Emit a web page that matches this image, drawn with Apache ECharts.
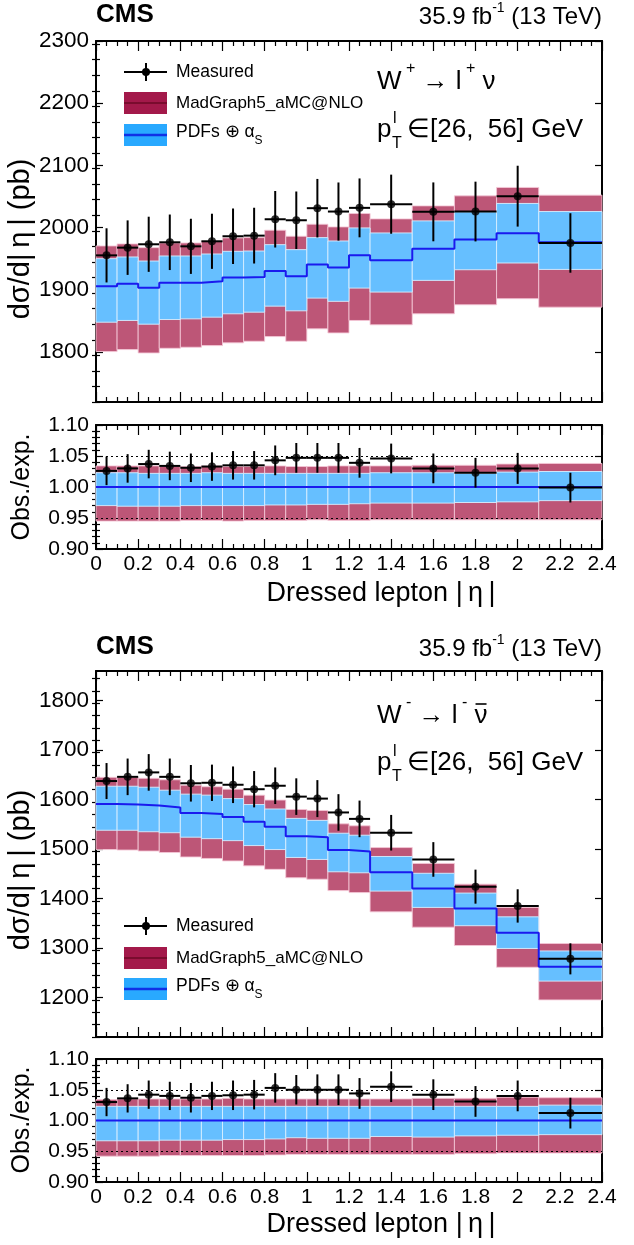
<!DOCTYPE html>
<html><head><meta charset="utf-8">
<script src="https://cdn.jsdelivr.net/npm/echarts@6/dist/echarts.min.js"></script>
<style>html,body{margin:0;padding:0;background:#fff}#c{width:634px;height:1245px}</style>
</head><body><div id="c"></div>
<script>
// ---------- DATA ----------
const edges = [0,0.1,0.2,0.3,0.4,0.5,0.6,0.7,0.8,0.9,1.0,1.1,1.2,1.3,1.5,1.7,1.9,2.1,2.4];
const xTickLabels = [0,0.2,0.4,0.6,0.8,1,1.2,1.4,1.6,1.8,2,2.2,2.4];

// W+ panel
const wpData   = [1955.6,1968,1973.4,1976.6,1970.1,1978.2,1986.3,1987.3,2013.6,2012,2031.4,2026,2031.9,2037.8,2025.5,2026,2050.7,1975.5];
const wpErr    = [43.5,43.8,44.3,44.6,44.3,44.3,44.6,44.8,45.4,46.2,47,46.7,47.3,47.5,47.3,48,48.9,47.8];
const wpPred   = [1906,1910,1903.5,1911.6,1911.6,1914,1920,1921,1930.4,1922,1941,1936,1955.6,1947.6,1966.4,1981,1991,1976.6];
const wpPdfUp  = [1950.3,1953,1946.5,1954.6,1954.6,1957.8,1962.1,1962.6,1972.8,1964.8,1984.1,1978.7,1999.7,1991.6,2011,2025.5,2039,2026];
const wpPdfDn  = [1848.2,1851,1845,1852.5,1853.6,1856.3,1861.7,1864.3,1874,1866.5,1886.9,1881.7,1903,1896.6,1915.4,1932.5,1943.3,1933];
const wpTotUp  = [1970.7,1974,1968,1975.5,1975.5,1978.2,1983.6,1984.1,1996,1986.3,2005.6,2001.3,2022.8,2014.2,2035.1,2051.2,2064.7,2052.3];
const wpTotDn  = [1801,1804.2,1798.8,1806.3,1808,1810.6,1815,1817.6,1825.1,1817.6,1837.5,1831,1851,1844,1861.7,1876.2,1886,1872.4];
const wpRatio    = [1.026,1.030,1.037,1.034,1.031,1.033,1.035,1.035,1.043,1.047,1.047,1.047,1.039,1.046,1.030,1.023,1.030,0.999];
const wpRatioErr = [0.023,0.023,0.023,0.023,0.023,0.023,0.023,0.023,0.024,0.024,0.024,0.024,0.024,0.024,0.024,0.024,0.025,0.024];
const wpRTotUp = [1.034,1.034,1.034,1.033,1.033,1.034,1.033,1.033,1.034,1.033,1.033,1.034,1.034,1.034,1.035,1.035,1.037,1.038];
const wpRPdfUp = [1.023,1.023,1.022,1.022,1.022,1.023,1.022,1.022,1.022,1.022,1.022,1.022,1.022,1.023,1.023,1.022,1.024,1.025];
const wpRPdfDn = [0.970,0.969,0.969,0.969,0.970,0.970,0.970,0.970,0.971,0.971,0.972,0.972,0.973,0.974,0.974,0.975,0.976,0.978];
const wpRTotDn = [0.945,0.945,0.945,0.945,0.946,0.946,0.945,0.946,0.946,0.946,0.947,0.946,0.946,0.947,0.947,0.947,0.947,0.947];
const wpYTicks = [1800,1900,2000,2100,2200,2300];

// W- panel
const wmData   = [1637.5,1646,1655,1646,1633,1634,1630,1621,1628,1606,1602,1574,1561,1533,1479,1424,1385,1278];
const wmErr    = [36.4,37,37,37,37,36.7,37,36.7,37,37,37.4,37,37,36,35,34.4,33.7,31.4];
const wmPred   = [1591,1590,1588,1584,1573,1571,1565,1555,1545,1526,1524,1498,1495,1453,1420,1380,1331,1262];
const wmPdfUp  = [1627,1627,1625,1619,1611,1609,1602,1590,1581,1562,1558,1532,1528,1485,1451,1411,1363,1294];
const wmPdfDn  = [1538,1538,1535,1533,1524,1521,1517,1507,1499,1483,1479,1454,1452,1415,1382,1345,1299,1233];
const wmTotUp  = [1645,1645,1643,1640,1629,1626,1621,1609,1599,1580,1578,1551,1547,1503,1471,1429,1382,1309];
const wmTotDn  = [1499,1498,1496,1493,1484,1481,1476,1466,1459,1442,1439,1416,1412,1373,1342,1305,1261,1195];
const wmRatio    = [1.030,1.036,1.042,1.040,1.037,1.040,1.041,1.042,1.053,1.050,1.050,1.050,1.044,1.055,1.042,1.031,1.040,1.012];
const wmRatioErr = [0.023,0.023,0.023,0.023,0.024,0.023,0.024,0.024,0.024,0.024,0.025,0.025,0.025,0.025,0.025,0.025,0.025,0.025];
const wmRTotUp = [1.034,1.035,1.035,1.035,1.035,1.035,1.036,1.035,1.035,1.035,1.035,1.035,1.035,1.035,1.036,1.036,1.038,1.037];
const wmRPdfUp = [1.023,1.023,1.023,1.023,1.023,1.023,1.023,1.023,1.023,1.023,1.023,1.023,1.023,1.023,1.023,1.023,1.023,1.025];
const wmRPdfDn = [0.967,0.967,0.967,0.968,0.968,0.968,0.969,0.969,0.970,0.972,0.971,0.971,0.971,0.974,0.973,0.975,0.976,0.977];
const wmRTotDn = [0.942,0.942,0.942,0.943,0.943,0.943,0.943,0.943,0.944,0.945,0.945,0.945,0.945,0.945,0.945,0.946,0.947,0.947];
const wmYTicks = [1200,1300,1400,1500,1600,1700,1800];

const ratioYTicks = [0.90,0.95,1.00,1.05,1.10];
const ratioRefLines = [0.95,1.05];

// ---------- STYLE / LAYOUT ----------
const FONT = '"Liberation Sans", Arial, Helvetica, sans-serif';
const RED = '#bd5677', RED_EDGE = 'rgba(245,200,215,0.85)';
const BLUE = '#66bfff', BLUE_EDGE = 'rgba(215,238,255,0.9)';
const LINE_BLUE = '#1a1aee';
const grids = [
  {left:96, width:506, top:41, height:361},
  {left:96, width:506, top:425, height:124},
  {left:96, width:506, top:671, height:366},
  {left:96, width:506, top:1059, height:123}
];

function minorsOf(min, max, step, majors) {
  const out = [];
  for (let v = min; v <= max + 1e-9; v += step) {
    const r = Math.round(v * 1000) / 1000;
    if (!majors.some(m => Math.abs(m - r) < 1e-6)) out.push(r);
  }
  return out;
}

const xAxes = [], yAxes = [];
const axLine = {show:true, onZero:false, lineStyle:{color:'#000', width:2}};
function addX(g, showLabels) {
  const base = {type:'value', gridIndex:g, min:0, max:2.4, interval:0.2, splitLine:{show:false},
    minorTick:{show:true, splitNumber:4, length:5, lineStyle:{color:'#000', width:1.2}},
    axisTick:{show:true, inside:true, length:10, lineStyle:{color:'#000', width:1.2}}, axisLine:axLine};
  xAxes.push(Object.assign({}, base, {position:'bottom',
    axisLabel:{show:showLabels, showMinLabel:true, showMaxLabel:true, fontSize:21, color:'#000', fontFamily:FONT, margin:5,
      formatter: v => String(+(+v).toFixed(1))}}));
  xAxes.push(Object.assign({}, base, {position:'top', axisLabel:{show:false}}));
}
function addY(g, min, max, majors, minorStep, fmt, fs) {
  const minors = minorsOf(min, max, minorStep, majors);
  const base = {type:'value', gridIndex:g, min, max, splitLine:{show:false}};
  const tl = {color:'#000', width:1.2};
  yAxes.push(Object.assign({}, base, {position:'left', axisLine:axLine,
    axisTick:{show:true, inside:true, length:7, customValues:majors, lineStyle:tl},
    axisLabel:{show:true, customValues:majors, formatter:fmt, fontSize:fs, color:'#000', fontFamily:FONT, margin:7}}));
  yAxes.push(Object.assign({}, base, {position:'right', axisLine:axLine,
    axisTick:{show:true, inside:true, length:7, customValues:majors, lineStyle:tl}, axisLabel:{show:false}}));
  yAxes.push(Object.assign({}, base, {position:'left', axisLine:{show:false},
    axisTick:{show:true, inside:true, length:4, customValues:minors, lineStyle:tl}, axisLabel:{show:false}}));
  yAxes.push(Object.assign({}, base, {position:'right', axisLine:{show:false},
    axisTick:{show:true, inside:true, length:4, customValues:minors, lineStyle:tl}, axisLabel:{show:false}}));
}
addX(0,false); addX(1,true); addX(2,false); addX(3,true);
addY(0, 1720, 2300, wpYTicks, 25, v => String(v), 22.5);
addY(1, 0.9, 1.1, ratioYTicks, 0.01, v => (+v).toFixed(2), 21);
addY(2, 1120, 1860, wmYTicks, 25, v => String(v), 22.5);
addY(3, 0.9, 1.1, ratioYTicks, 0.01, v => (+v).toFixed(2), 21);

function bandSeries(g, lo, up, fill, stroke, z) {
  return {type:'custom', xAxisIndex:2*g, yAxisIndex:4*g, z, silent:true, animation:false,
    data: up.map((u,i) => [edges[i], edges[i+1], lo[i], u]),
    encode:{x:[0,1], y:[2,3]},
    renderItem:(p, api) => {
      const a = api.coord([api.value(0), api.value(3)]);
      const b = api.coord([api.value(1), api.value(2)]);
      return {type:'rect', shape:{x:a[0], y:a[1], width:b[0]-a[0], height:b[1]-a[1]},
        style:{fill, stroke, lineWidth:1}};
    }};
}
function stepSeries(g, vals, z) {
  const d = vals.map((v,i) => [edges[i], v]);
  d.push([edges[edges.length-1], vals[vals.length-1]]);
  return {type:'line', xAxisIndex:2*g, yAxisIndex:4*g, z, step:'end', data:d, symbol:'none',
    silent:true, animation:false, lineStyle:{color:LINE_BLUE, width:2}};
}
function errSeries(g, vals, errs, z) {
  return {type:'custom', xAxisIndex:2*g, yAxisIndex:4*g, z, silent:true, animation:false,
    data: vals.map((v,i) => [edges[i], edges[i+1], (edges[i]+edges[i+1])/2, v, errs[i]]),
    encode:{x:[0,1], y:3},
    renderItem:(p, api) => {
      const l = api.coord([api.value(0), api.value(3)]);
      const r = api.coord([api.value(1), api.value(3)]);
      const t = api.coord([api.value(2), api.value(3)+api.value(4)]);
      const b = api.coord([api.value(2), api.value(3)-api.value(4)]);
      return {type:'group', children:[
        {type:'line', shape:{x1:l[0], y1:l[1], x2:r[0], y2:r[1]}, style:{stroke:'#000', lineWidth:2}},
        {type:'line', shape:{x1:t[0], y1:t[1], x2:b[0], y2:b[1]}, style:{stroke:'#000', lineWidth:2}}
      ]};
    }};
}
function pointSeries(g, vals, z) {
  return {type:'scatter', xAxisIndex:2*g, yAxisIndex:4*g, z, silent:true, animation:false,
    symbol:'circle', symbolSize:8, itemStyle:{color:'#000'},
    data: vals.map((v,i) => [(edges[i]+edges[i+1])/2, v])};
}
function ratioLine(g) {
  return {type:'line', xAxisIndex:2*g, yAxisIndex:4*g, z:4, data:[[0,1],[2.4,1]], symbol:'none',
    silent:true, animation:false, lineStyle:{color:LINE_BLUE, width:2},
    markLine:{silent:true, symbol:'none', label:{show:false}, animation:false,
      lineStyle:{color:'#000', type:[2,3], width:1},
      data: ratioRefLines.map(v => ({yAxis:v}))}};
}

const series = [
  bandSeries(0, wpTotDn, wpTotUp, RED, RED_EDGE, 1),
  bandSeries(0, wpPdfDn, wpPdfUp, BLUE, BLUE_EDGE, 2),
  stepSeries(0, wpPred, 3),
  errSeries(0, wpData, wpErr, 5),
  pointSeries(0, wpData, 6),
  bandSeries(1, wpRTotDn, wpRTotUp, RED, RED_EDGE, 1),
  bandSeries(1, wpRPdfDn, wpRPdfUp, BLUE, BLUE_EDGE, 2),
  ratioLine(1),
  errSeries(1, wpRatio, wpRatioErr, 5),
  pointSeries(1, wpRatio, 6),
  bandSeries(2, wmTotDn, wmTotUp, RED, RED_EDGE, 1),
  bandSeries(2, wmPdfDn, wmPdfUp, BLUE, BLUE_EDGE, 2),
  stepSeries(2, wmPred, 3),
  errSeries(2, wmData, wmErr, 5),
  pointSeries(2, wmData, 6),
  bandSeries(3, wmRTotDn, wmRTotUp, RED, RED_EDGE, 1),
  bandSeries(3, wmRPdfDn, wmRPdfUp, BLUE, BLUE_EDGE, 2),
  ratioLine(3),
  errSeries(3, wmRatio, wmRatioErr, 5),
  pointSeries(3, wmRatio, 6)
];

// ---------- TEXT / LEGEND GRAPHICS ----------
const mctx = document.createElement('canvas').getContext('2d');
function tw(s, size) { mctx.font = size + 'px "Liberation Sans", Arial, sans-serif'; return mctx.measureText(s).width; }

function txt(x, y, text, size, opts) {
  return Object.assign({type:'text', x, y, silent:true, z:100,
    style:Object.assign({text, fontSize:size, fontFamily:FONT, fill:'#000', align:'left', verticalAlign:'middle'}, (opts||{}).style||{})},
    (opts||{}).el||{});
}
function header(y) {
  return [
    txt(96, y, 'CMS', 26, {style:{fontWeight:'bold'}}),
    {type:'text', x:602, y, silent:true, z:100, style:{
      text:'{a|35.9 fb}{s|-1}{a| (13 TeV)}', align:'right', verticalAlign:'middle',
      rich:{a:{fontSize:24, fontFamily:FONT, fill:'#000', lineHeight:28, verticalAlign:'bottom'},
            s:{fontSize:14, fontFamily:FONT, fill:'#000', lineHeight:28, verticalAlign:'top'}}}}
  ];
}
function legend(yMeas, yMg, yPdf) {
  return [
    {type:'line', shape:{x1:124, y1:yMeas, x2:167, y2:yMeas}, style:{stroke:'#000', lineWidth:2}, z:100, silent:true},
    {type:'line', shape:{x1:146, y1:yMeas-9, x2:146, y2:yMeas+9}, style:{stroke:'#000', lineWidth:2}, z:100, silent:true},
    {type:'circle', shape:{cx:146, cy:yMeas, r:4}, style:{fill:'#000'}, z:100, silent:true},
    txt(176, yMeas, 'Measured', 17.5),
    {type:'rect', shape:{x:124, y:yMg-11, width:43, height:22}, style:{fill:'#a3194a'}, z:100, silent:true},
    {type:'line', shape:{x1:124, y1:yMg, x2:167, y2:yMg}, style:{stroke:'#7a0c2e', lineWidth:2}, z:101, silent:true},
    txt(176, yMg, 'MadGraph5_aMC@NLO', 17),
    {type:'rect', shape:{x:124, y:yPdf-11, width:43, height:22}, style:{fill:'#29a9ff'}, z:100, silent:true},
    {type:'line', shape:{x1:124, y1:yPdf, x2:167, y2:yPdf}, style:{stroke:'#1030e6', lineWidth:2.5}, z:101, silent:true},
    {type:'text', x:176, y:yPdf, silent:true, z:100, style:{text:'{a|PDFs ⊕ α}{s|S}', verticalAlign:'middle',
      rich:{a:{fontSize:17.5, fontFamily:FONT, fill:'#000', lineHeight:24, verticalAlign:'top'},
            s:{fontSize:12, fontFamily:FONT, fill:'#000', lineHeight:24, verticalAlign:'bottom'}}}}
  ];
}
function procLabel(yW, yP, minus) {
  const els = [];
  const N = 26, S = 16;
  const rich = {n:{fontSize:N, fontFamily:FONT, fill:'#000', lineHeight:34, verticalAlign:'bottom'},
                s:{fontSize:S, fontFamily:FONT, fill:'#000', lineHeight:34, verticalAlign:'top'}};
  const sg = minus ? '-' : '+';
  els.push({type:'text', x:377, y:yW, silent:true, z:100,
    style:{text:'{n|W}{s| ' + sg + '}{n| → l}{s| ' + sg + '}{n| ν}', verticalAlign:'middle', rich}});
  if (minus) {
    const nuX = 377 + tw('W', N) + tw(' ' + sg, S) + tw(' → l', N) + tw(' ' + sg, S) + tw(' ', N);
    const nuW = tw('ν', N);
    els.push({type:'line', shape:{x1:nuX + 1, y1:yW - 8, x2:nuX + nuW - 1, y2:yW - 8},
      style:{stroke:'#000', lineWidth:1.6}, z:100, silent:true});
  }
  els.push(txt(377, yP, 'p', N));
  els.push(txt(393, yP - 11, 'l', S));
  els.push(txt(392, yP + 14, 'T', S));
  els.push(txt(407, yP, '∈[26,  56] GeV', N));
  return els;
}
function yTitle(x, y, text, fs) {
  return txt(x, y, text, fs, {style:{align:'center'}, el:{rotation:Math.PI/2}});
}

const graphics = [].concat(
  header(15), header(647),
  legend(72, 103, 135), legend(926, 958, 989),
  procLabel(78, 130, false), procLabel(712, 763, true),
  [yTitle(21, 239, 'dσ/d|\u2009η\u2009| (pb)', 29), yTitle(22, 487, 'Obs./exp.', 25),
   yTitle(21, 870, 'dσ/d|\u2009η\u2009| (pb)', 29), yTitle(22, 1120, 'Obs./exp.', 25),
   txt(381, 594, 'Dressed lepton |\u2009η\u2009|', 27, {style:{align:'center'}}),
   txt(381, 1225, 'Dressed lepton |\u2009η\u2009|', 27, {style:{align:'center'}})]
);

const chart = echarts.init(document.getElementById('c'), null, {renderer:'canvas'});
chart.setOption({
  animation:false,
  backgroundColor:'#fff',
  grid: grids,
  xAxis: xAxes,
  yAxis: yAxes,
  series,
  graphic: graphics
});
</script></body></html>
